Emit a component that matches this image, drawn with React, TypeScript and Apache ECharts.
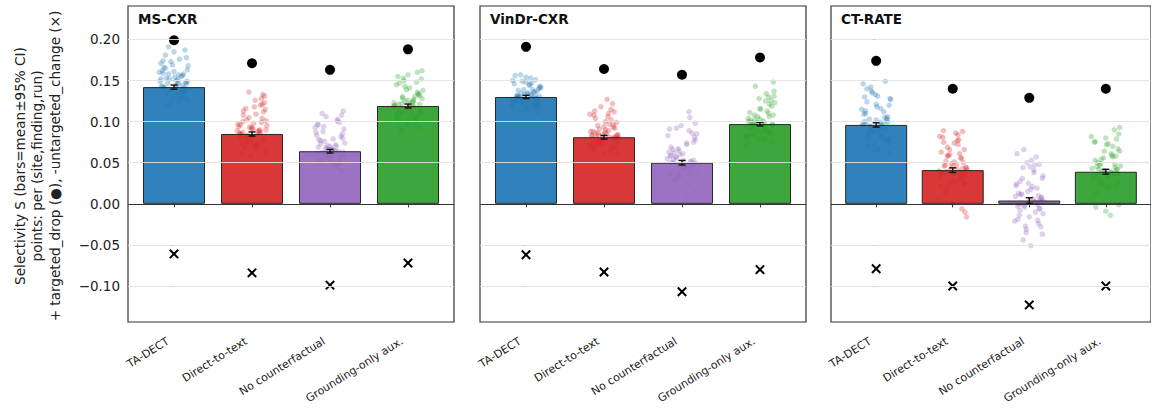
import React, { useEffect, useRef } from "react";
import * as echarts from "echarts";

const FONT = "'DejaVu Sans', 'Liberation Sans', sans-serif";

const DATASETS = ["MS-CXR", "VinDr-CXR", "CT-RATE"];
const CATEGORIES = ["TA-DECT", "Direct-to-text", "No counterfactual", "Grounding-only aux."];
const COLORS = ["#1f77b4", "#d62728", "#9467bd", "#2ca02c"];
const Y_TICKS = [-0.1, -0.05, 0, 0.05, 0.1, 0.15, 0.2];
const Y_MIN = -0.1438;
const Y_MAX = 0.2407;

// bar means (per dataset, per method)
const BAR_MEANS = [
  [0.142, 0.085, 0.064, 0.119],
  [0.130, 0.081, 0.050, 0.097],
  [0.096, 0.041, 0.004, 0.039],
];
// 95% CI half-widths
const CI_HALF = [
  [0.0025, 0.0025, 0.0022, 0.0024],
  [0.0020, 0.0022, 0.0028, 0.0022],
  [0.0026, 0.0028, 0.0034, 0.0030],
];
// targeted drop (filled dots)
const TARGETED_DROP = [
  [0.199, 0.171, 0.163, 0.188],
  [0.191, 0.164, 0.157, 0.178],
  [0.174, 0.140, 0.129, 0.140],
];
// -untargeted change (crosses)
const NEG_UNTARGETED = [
  [-0.061, -0.084, -0.099, -0.072],
  [-0.062, -0.083, -0.107, -0.080],
  [-0.079, -0.100, -0.123, -0.100],
];

// per (site, finding, run) points
const MSCXR_TA = [0.142,0.151,0.163,0.138,0.129,0.171,0.155,0.147,0.133,0.168,0.159,0.144,0.122,0.176,0.149,0.137,0.185,0.153,0.141,0.128,0.162,0.157,0.146,0.191,0.135,0.166,0.150,0.139,0.118,0.173,0.158,0.143,0.131,0.181,0.154,0.148,
  0.145,0.152,0.136,0.160,0.127,0.169,0.149,0.140,0.156,0.134,0.178,0.143,0.161,0.131,0.152,0.187,0.139,0.147,0.165,0.125,0.158,0.144,0.174,0.137];
const MSCXR_DT = [0.088,0.097,0.112,0.079,0.068,0.121,0.093,0.084,0.072,0.131,0.102,0.090,0.061,0.118,0.095,0.081,0.136,0.099,0.086,0.074,0.108,0.092,0.077,0.126,0.083,0.104,0.089,0.070,0.058,0.115,0.100,0.087,0.075,0.123,0.096,0.091,
  0.086,0.094,0.078,0.105,0.066,0.113,0.090,0.082,0.098,0.073,0.128,0.087,0.109,0.063,0.093,0.133,0.080,0.089,0.116,0.071,0.101,0.085,0.120,0.076];
const MSCXR_NC = [0.066,0.074,0.088,0.058,0.049,0.097,0.070,0.062,0.052,0.108,0.079,0.068,0.041,0.093,0.072,0.060,0.113,0.077,0.064,0.054,0.085,0.069,0.056,0.101,0.061,0.082,0.067,0.047,0.035,0.091,0.076,0.063,0.053,0.099,0.073,0.065,
  0.063,0.071,0.057,0.083,0.045,0.094,0.067,0.059,0.078,0.050,0.106,0.064,0.087,0.039,0.070,0.110,0.055,0.066,0.096,0.048,0.080,0.062,0.103,0.053];
const MSCXR_GA = [0.118,0.127,0.139,0.110,0.101,0.148,0.122,0.115,0.104,0.157,0.131,0.120,0.093,0.143,0.124,0.112,0.162,0.129,0.117,0.106,0.136,0.121,0.108,0.152,0.114,0.133,0.119,0.099,0.088,0.141,0.128,0.116,0.105,0.150,0.125,0.123,
  0.121,0.126,0.111,0.134,0.097,0.145,0.119,0.113,0.130,0.103,0.155,0.122,0.138,0.091,0.125,0.160,0.109,0.118,0.147,0.100,0.132,0.116,0.153,0.107];
const VINDR_TA = [0.129,0.135,0.142,0.124,0.118,0.149,0.132,0.127,0.120,0.154,0.138,0.130,0.114,0.146,0.133,0.125,0.157,0.136,0.128,0.121,0.141,0.131,0.123,0.151,0.126,0.139,0.130,0.117,0.112,0.144,0.134,0.128,0.119,0.147,0.133,0.131,
  0.131,0.136,0.125,0.140,0.116,0.148,0.129,0.123,0.137,0.119,0.153,0.132,0.143,0.113,0.134,0.156,0.122,0.128,0.145,0.117,0.139,0.127,0.150,0.121];
const VINDR_DT = [0.082,0.089,0.099,0.076,0.069,0.108,0.085,0.080,0.072,0.118,0.093,0.083,0.064,0.104,0.087,0.078,0.127,0.091,0.081,0.071,0.097,0.084,0.074,0.113,0.079,0.095,0.082,0.067,0.061,0.102,0.088,0.080,0.073,0.110,0.086,0.084,
  0.083,0.090,0.075,0.096,0.066,0.106,0.084,0.078,0.092,0.070,0.115,0.086,0.100,0.062,0.088,0.122,0.076,0.081,0.109,0.068,0.094,0.080,0.112,0.073];
const VINDR_NC = [0.050,0.061,0.075,0.042,0.031,0.086,0.055,0.046,0.034,0.098,0.066,0.052,0.020,0.081,0.058,0.044,0.112,0.063,0.048,0.037,0.072,0.054,0.039,0.092,0.045,0.069,0.051,0.027,0.008,0.078,0.060,0.047,0.036,0.089,0.057,0.053,
  0.049,0.059,0.041,0.067,0.025,0.083,0.053,0.044,0.062,0.033,0.095,0.050,0.074,0.015,0.056,0.105,0.038,0.047,0.085,0.029,0.065,0.046,0.091,0.036];
const VINDR_GA = [0.096,0.104,0.116,0.089,0.081,0.126,0.099,0.093,0.084,0.137,0.108,0.097,0.075,0.121,0.101,0.091,0.148,0.106,0.094,0.083,0.113,0.098,0.087,0.131,0.092,0.110,0.096,0.079,0.072,0.119,0.103,0.095,0.085,0.128,0.100,0.098,
  0.097,0.102,0.088,0.111,0.078,0.123,0.095,0.090,0.106,0.082,0.134,0.099,0.115,0.074,0.101,0.143,0.086,0.094,0.125,0.080,0.108,0.092,0.130,0.084];
const CTRATE_TA = [0.095,0.106,0.121,0.086,0.075,0.133,0.100,0.091,0.079,0.142,0.112,0.097,0.066,0.127,0.103,0.088,0.149,0.109,0.093,0.081,0.118,0.099,0.084,0.137,0.090,0.115,0.096,0.072,0.062,0.124,0.105,0.094,0.078,0.130,0.102,0.098,
  0.097,0.104,0.087,0.116,0.070,0.128,0.094,0.089,0.110,0.077,0.140,0.099,0.120,0.064,0.102,0.146,0.083,0.092,0.131,0.074,0.113,0.091,0.135,0.080];
const CTRATE_DT = [0.041,0.052,0.066,0.032,0.021,0.078,0.046,0.037,0.024,0.086,0.058,0.043,0.006,0.072,0.049,0.034,0.089,0.055,0.039,0.026,0.063,0.045,0.029,0.082,0.036,0.060,0.042,0.014,-0.016,0.069,0.051,0.038,-0.006,0.075,0.048,0.044,
  0.042,0.050,0.031,0.061,0.017,0.074,0.044,0.035,0.056,0.023,0.084,0.040,0.066,0.001,0.047,0.088,0.028,0.038,0.077,-0.010,0.059,0.036,0.081,0.026];
const CTRATE_NC = [0.003,0.015,0.031,-0.008,-0.020,0.044,0.008,-0.003,-0.016,0.057,0.022,0.005,-0.031,0.038,0.011,-0.012,0.066,0.018,0.000,-0.024,0.027,0.006,-0.037,0.050,-0.006,0.024,0.002,-0.044,-0.051,0.034,0.013,-0.001,-0.027,0.047,0.009,0.004,
  0.004,0.012,-0.006,0.025,-0.019,0.041,0.007,-0.002,0.019,-0.014,0.053,0.003,0.031,-0.035,0.010,0.061,-0.010,0.001,0.045,-0.028,0.021,-0.004,0.048,-0.021];
const CTRATE_GA = [0.039,0.050,0.064,0.030,0.019,0.076,0.044,0.035,0.022,0.085,0.056,0.041,0.004,0.070,0.047,0.032,0.093,0.053,0.037,0.024,0.061,0.043,0.027,0.080,0.034,0.058,0.040,0.012,-0.014,0.067,0.049,0.036,-0.004,0.073,0.046,0.042,
  0.040,0.048,0.029,0.059,0.015,0.072,0.042,0.033,0.054,0.021,0.082,0.038,0.064,-0.001,0.045,0.090,0.026,0.036,0.075,-0.009,0.057,0.034,0.079,0.024];

const POINTS = [
  [MSCXR_TA, MSCXR_DT, MSCXR_NC, MSCXR_GA],
  [VINDR_TA, VINDR_DT, VINDR_NC, VINDR_GA],
  [CTRATE_TA, CTRATE_DT, CTRATE_NC, CTRATE_GA],
];
// horizontal jitter (in category units)
const JITTER = [-0.12,0.05,0.17,-0.03,0.14,-0.17,0.09,-0.08,0.02,0.18,-0.14,0.11,-0.05,0.07,-0.18,0.15,0.00,-0.10,0.13,-0.01,-0.15,0.06,0.16,-0.07,0.10,-0.13,0.03,0.19,-0.09,-0.04,0.12,-0.16,0.08,-0.11,0.01,0.15,
  0.04,-0.06,0.13,-0.19,0.07,-0.02,0.17,-0.12,0.11,-0.08,0.16,-0.15,0.00,0.09,-0.17,0.14,-0.04,0.06,-0.11,0.18,-0.07,0.02,-0.14,0.12];

const Y_TITLE = [
  "Selectivity S (bars=mean±95% CI)",
  "points: per (site,finding,run)",
  "+ targeted_drop (●), -untargeted_change (×)",
];

const GRID_LEFT = [128, 480, 831];
const GRID_W = 326;
const GRID_TOP = 6;
const GRID_H = 316;

function fmtY(v: number) {
  const s = Math.abs(v) < 1e-9 ? "0.00" : v.toFixed(2);
  return s.replace("-", "\u2212");
}

export default function App() {
  const ref = useRef<HTMLDivElement>(null);
  useEffect(() => {
    if (!ref.current) return;
    const chart = echarts.init(ref.current, undefined, { renderer: "svg" });

    const grids: any[] = [];
    const xAxes: any[] = [];
    const yAxes: any[] = [];
    const series: any[] = [];
    const titles: any[] = [];

    DATASETS.forEach((name, g) => {
      grids.push({
        left: GRID_LEFT[g],
        top: GRID_TOP,
        width: GRID_W,
        height: GRID_H,
        show: true,
        borderColor: "#333",
        borderWidth: 1.2,
        backgroundColor: "transparent",
      });
      titles.push({
        text: name,
        left: GRID_LEFT[g] + 10,
        top: 12,
        padding: 0,
        textStyle: { fontFamily: FONT, fontSize: 13.5, fontWeight: "bold", color: "#111" },
      });
      xAxes.push({
        type: "value",
        gridIndex: g,
        min: -0.59,
        max: 3.59,
        axisLine: { show: false },
        splitLine: { show: false },
        axisTick: {
          show: true,
          customValues: [0, 1, 2, 3],
          length: 3.5,
          lineStyle: { color: "#333", width: 1 },
        },
        axisLabel: {
          show: true,
          customValues: [0, 1, 2, 3],
          rotate: 32,
          margin: 14.5,
          padding: [0, 7, 0, 0],
          fontFamily: FONT,
          fontSize: 11,
          color: "#222",
          formatter: (v: number) => CATEGORIES[Math.round(v)] ?? "",
        },
      });
      yAxes.push({
        type: "value",
        gridIndex: g,
        min: Y_MIN,
        max: Y_MAX,
        axisLine: { show: false },
        splitLine: { show: false },
        axisTick: {
          show: true,
          customValues: Y_TICKS,
          length: 3.5,
          lineStyle: { color: "#333", width: 1 },
        },
        axisLabel: {
          show: g === 0,
          customValues: Y_TICKS,
          margin: 8,
          fontFamily: FONT,
          fontSize: 13.5,
          color: "#222",
          formatter: (v: number) => fmtY(v),
        },
      });

      // jittered points
      const pts: any[] = [];
      POINTS[g].forEach((arr, c) => {
        arr.forEach((v, i) => {
          const j = JITTER[(i + 7 * g + 13 * c) % JITTER.length];
          pts.push({ value: [c + j, v], itemStyle: { color: COLORS[c] } });
        });
      });
      series.push({
        type: "scatter",
        xAxisIndex: g,
        yAxisIndex: g,
        data: pts,
        symbolSize: 5.5,
        itemStyle: { opacity: 0.3 },
        z: 1,
        silent: true,
        markLine: {
          silent: true,
          symbol: ["none", "none"],
          label: { show: false },
          animation: false,
          data: Y_TICKS.filter((t) => Math.abs(t) > 1e-9).map((t) => ({
            yAxis: t,
            lineStyle: { color: "#e2e2e2", width: 0.9, type: "solid" },
          })),
        },
      });

      // bars
      series.push({
        type: "bar",
        xAxisIndex: g,
        yAxisIndex: g,
        barWidth: 62,
        data: BAR_MEANS[g].map((v, c) => ({
          value: [c, v],
          itemStyle: { color: COLORS[c] },
        })),
        itemStyle: { borderColor: "#1a1a1a", borderWidth: 1, opacity: 0.92 },
        z: 2,
        silent: true,
        markLine: {
          silent: true,
          symbol: ["none", "none"],
          label: { show: false },
          animation: false,
          data: [{ yAxis: 0, lineStyle: { color: "#333", width: 1.1, type: "solid" } }],
        },
      });

      // error bars
      series.push({
        type: "custom",
        xAxisIndex: g,
        yAxisIndex: g,
        z: 3,
        silent: true,
        data: BAR_MEANS[g].map((v, c) => [c, v - CI_HALF[g][c], v + CI_HALF[g][c]]),
        renderItem: (params: any, api: any) => {
          const x = api.value(0);
          const lo = api.coord([x, api.value(1)]);
          const hi = api.coord([x, api.value(2)]);
          const cap = 3.5;
          const style = { stroke: "#111", lineWidth: 1.4 };
          return {
            type: "group",
            children: [
              { type: "line", shape: { x1: lo[0], y1: lo[1], x2: hi[0], y2: hi[1] }, style },
              { type: "line", shape: { x1: lo[0] - cap, y1: lo[1], x2: lo[0] + cap, y2: lo[1] }, style },
              { type: "line", shape: { x1: hi[0] - cap, y1: hi[1], x2: hi[0] + cap, y2: hi[1] }, style },
            ],
          };
        },
      });

      // targeted drop dots
      series.push({
        type: "scatter",
        xAxisIndex: g,
        yAxisIndex: g,
        z: 4,
        silent: true,
        symbolSize: 10,
        itemStyle: { color: "#000", opacity: 1 },
        data: TARGETED_DROP[g].map((v, c) => [c, v]),
      });

      // untargeted crosses
      series.push({
        type: "custom",
        xAxisIndex: g,
        yAxisIndex: g,
        z: 4,
        silent: true,
        data: NEG_UNTARGETED[g].map((v, c) => [c, v]),
        renderItem: (params: any, api: any) => {
          const p = api.coord([api.value(0), api.value(1)]);
          const h = 4.2;
          const style = { stroke: "#000", lineWidth: 2 };
          return {
            type: "group",
            children: [
              { type: "line", shape: { x1: p[0] - h, y1: p[1] - h, x2: p[0] + h, y2: p[1] + h }, style },
              { type: "line", shape: { x1: p[0] - h, y1: p[1] + h, x2: p[0] + h, y2: p[1] - h }, style },
            ],
          };
        },
      });
    });

    chart.setOption({
      animation: false,
      backgroundColor: "#ffffff",
      title: titles,
      grid: grids,
      xAxis: xAxes,
      yAxis: yAxes,
      series,
      graphic: [
        {
          type: "text",
          x: 37,
          y: 166,
          rotation: Math.PI / 2,
          style: {
            text: Y_TITLE.join("\n"),
            align: "center",
            verticalAlign: "middle",
            font: `13.6px ${FONT}`,
            lineHeight: 17.5,
            fill: "#222",
          },
        },
      ],
    });

    return () => chart.dispose();
  }, []);

  return (
    <div
      ref={ref}
      style={{ position: "fixed", left: 0, top: 0, width: 1151, height: 412 }}
    />
  );
}
